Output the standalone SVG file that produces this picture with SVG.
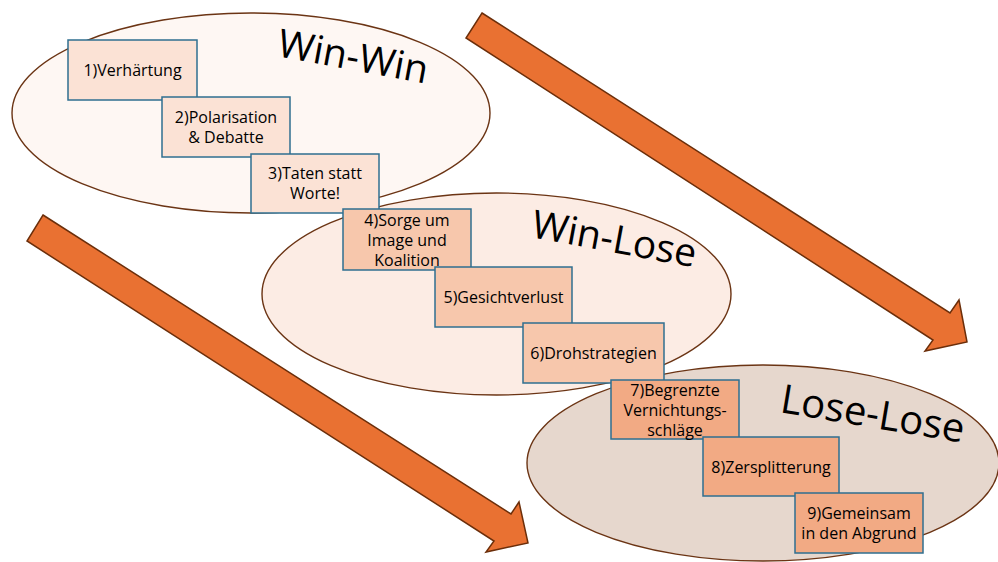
<svg xmlns="http://www.w3.org/2000/svg" width="998" height="562" viewBox="0 0 998 562">
<style>
.ell{stroke:#6b3414;stroke-width:1.4}
.arrow{fill:#e97132;stroke:#6b2e0a;stroke-width:1.5;stroke-linejoin:miter}
.box{stroke:#2f6f90;stroke-width:1.5}
.s1{fill:#fbe2d5}
.s2{fill:#f7c7ac}
.s3{fill:#f2aa84}
.lbl{font-family:"Open Sans","Noto Sans",sans-serif;font-size:16px;fill:#000;text-anchor:middle}
.title{font-family:"Open Sans","Noto Sans",sans-serif;font-size:39px;fill:#000}
</style>
<rect width="998" height="562" fill="#ffffff"/>
<g id="phases">
<ellipse id="win-win-zone" class="ell" cx="251" cy="113" rx="239" ry="100" fill="#fef7f3"/>
<ellipse id="win-lose-zone" class="ell" cx="496.5" cy="294" rx="234.5" ry="101" fill="#fcece4"/>
<ellipse id="lose-lose-zone" class="ell" cx="763" cy="463" rx="236" ry="98" fill="#e6d7cd"/>
</g>
<g id="connectors">
<polygon class="arrow" points="482,13 950,313 959,300 967,342 925,351 933,340 466,38"/>
<polygon class="arrow" points="43,215 511,514 519,502 528,543 486,552 494,541 27,241"/>
</g>
<g id="titles">
<text class="title" transform="translate(276,56) rotate(10.5)">Win-Win</text>
<text class="title" transform="translate(530,237) rotate(10.5)">Win-Lose</text>
<text class="title" transform="translate(779,412) rotate(9.5)" style="font-size:40px">Lose-Lose</text>
</g>
<g id="n1"><rect class="box s1" x="68" y="40" width="129" height="60"/><text class="lbl" x="132.5" y="76">1)Verhärtung</text></g>
<g id="n2"><rect class="box s1" x="162" y="97" width="128" height="60"/><text class="lbl" x="226" y="122.5">2)Polarisation</text><text class="lbl" x="226" y="142.5">&amp; Debatte</text></g>
<g id="n3"><rect class="box s1" x="251" y="154" width="128" height="59"/><text class="lbl" x="315" y="178.5">3)Taten statt</text><text class="lbl" x="315" y="198.5">Worte!</text></g>
<g id="n4"><rect class="box s2" x="343" y="209" width="128" height="61"/><text class="lbl" x="407" y="225.5">4)Sorge um</text><text class="lbl" x="407" y="245.5">Image und</text><text class="lbl" x="407" y="265.5">Koalition</text></g>
<g id="n5"><rect class="box s2" x="435" y="267" width="137" height="60"/><text class="lbl" x="503.5" y="302.5">5)Gesichtverlust</text></g>
<g id="n6"><rect class="box s2" x="523" y="323" width="141" height="60"/><text class="lbl" x="593.5" y="358.5">6)Drohstrategien</text></g>
<g id="n7"><rect class="box s3" x="611" y="380" width="128" height="59"/><text class="lbl" x="675" y="395.5">7)Begrenzte</text><text class="lbl" x="675" y="415.5">Vernichtungs-</text><text class="lbl" x="675" y="435.5">schläge</text></g>
<g id="n8"><rect class="box s3" x="703" y="437" width="136" height="59"/><text class="lbl" x="771" y="472.5">8)Zersplitterung</text></g>
<g id="n9"><rect class="box s3" x="795" y="493" width="128" height="60"/><text class="lbl" x="859" y="518.5">9)Gemeinsam</text><text class="lbl" x="859" y="538.5">in den Abgrund</text></g>
</svg>
